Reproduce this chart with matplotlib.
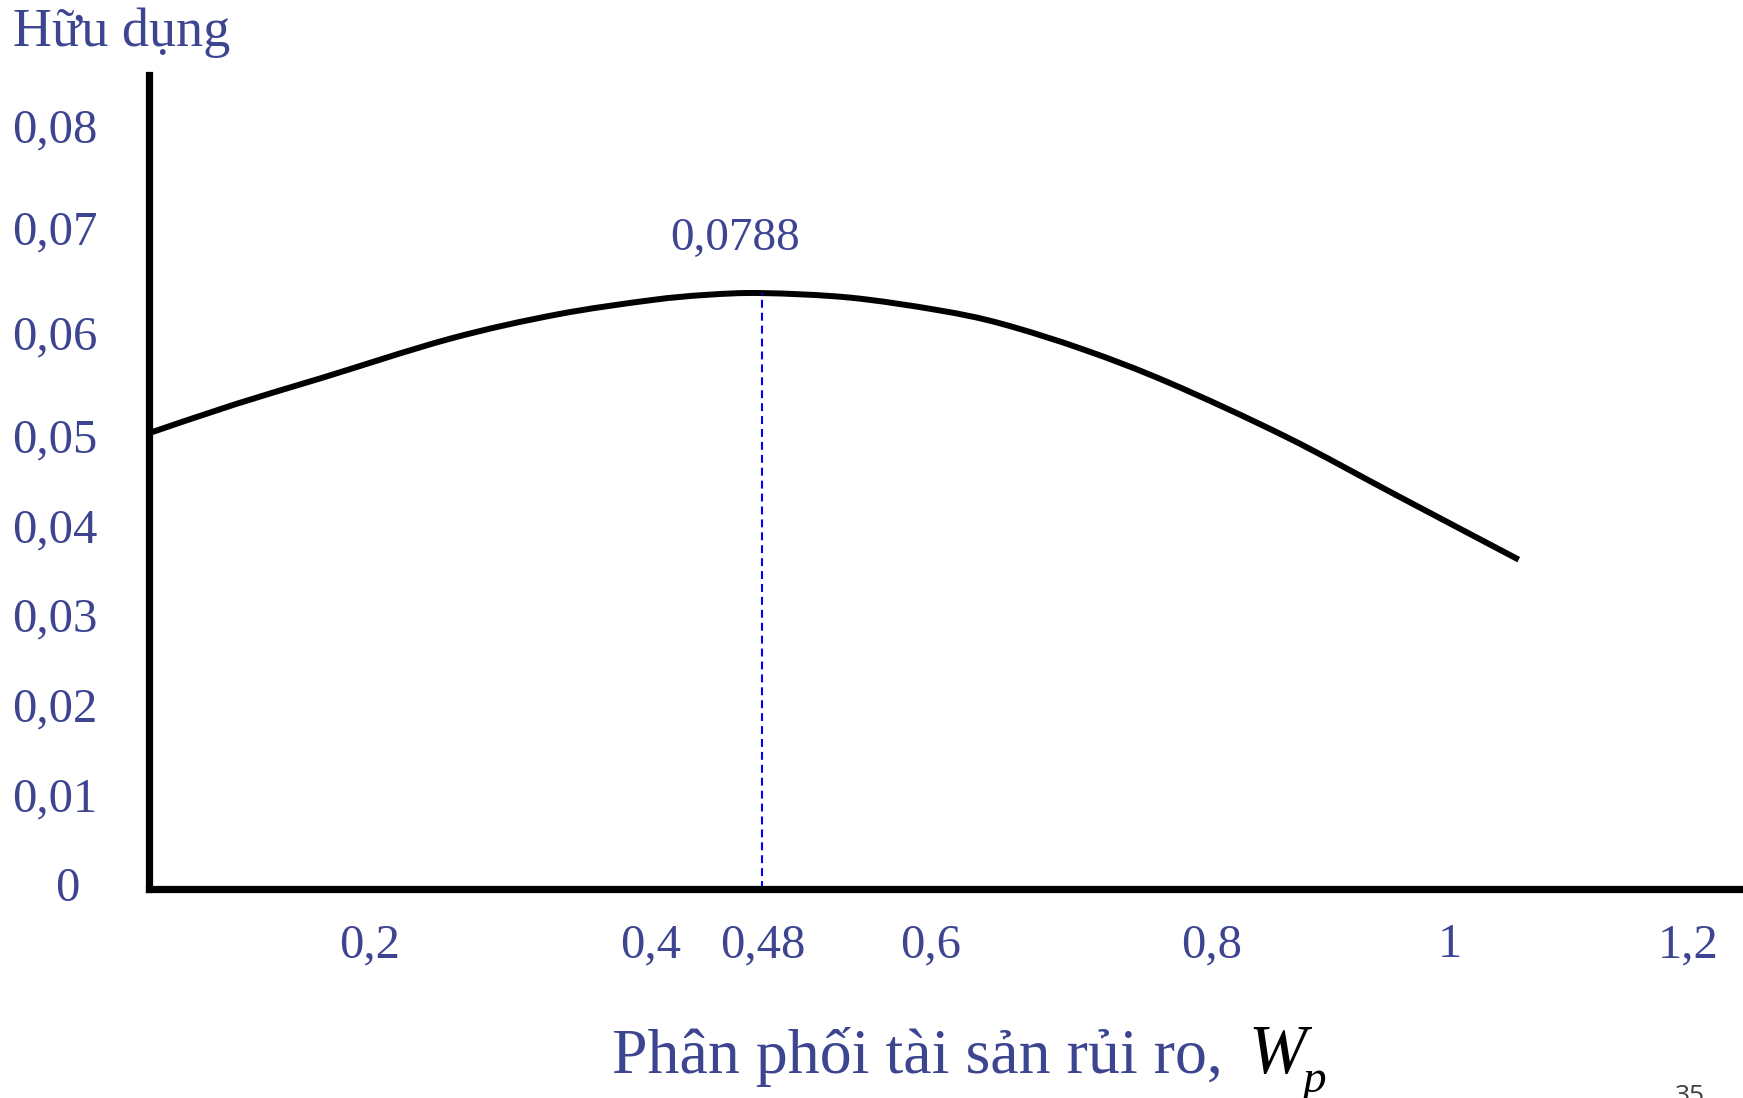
import matplotlib.pyplot as plt
import numpy as np
from matplotlib import transforms
from matplotlib.path import Path
from matplotlib.patches import PathPatch

# curve (risky-asset weight vs utility)
w_vals = [0.043, 0.104, 0.165, 0.257, 0.333, 0.400, 0.440, 0.480, 0.542,
          0.605, 0.650, 0.709, 0.770, 0.853, 0.934, 1.019]
u_vals = [0.0508, 0.0540, 0.0569, 0.0613, 0.0640, 0.0656, 0.0662, 0.0664,
          0.0659, 0.0645, 0.0630, 0.0601, 0.0564, 0.0504, 0.0437, 0.0367]

w_opt = 0.48
u_opt = 0.0664
u_opt_label = "0,0788"

# tick labels as drawn on the slide (spacing is not quite even there)
x_tick_pos = [0.2, 0.4, 0.48, 0.6, 0.8, 0.97, 1.14]
x_tick_lab = ["0,2", "0,4", "0,48", "0,6", "0,8", "1", "1,2"]
y_tick_pos = [0, 0.01, 0.02, 0.03, 0.04, 0.05, 0.0615, 0.0731, 0.0845]
y_tick_lab = ["0", "0,01", "0,02", "0,03", "0,04", "0,05", "0,06", "0,07", "0,08"]

TXT = "#3d4591"
SERIF = ["Liberation Serif", "DejaVu Serif"]


def smooth_path(xs, ys):
    # smoothed line like the office chart: bezier segments through the points
    P = np.column_stack([xs, ys])
    n = len(P)
    verts = [P[0]]
    codes = [Path.MOVETO]
    for i in range(n - 1):
        p0 = P[i - 1] if i > 0 else P[i]
        p1, p2 = P[i], P[i + 1]
        p3 = P[i + 2] if i + 2 < n else P[i + 1]
        verts += [p1 + (p2 - p0) / 6, p2 - (p3 - p1) / 6, p2]
        codes += [Path.CURVE4] * 3
    return Path(verts, codes)


W, H = 1743, 1098
fig = plt.figure(figsize=(W / 100, H / 100), dpi=100)
ax = fig.add_axes([149 / W, (H - 889) / H, (1739 - 149) / W, (889 - 75) / H])

ax.add_patch(PathPatch(smooth_path(w_vals, u_vals), fill=False, ec="black",
                       lw=4.3, capstyle="butt", joinstyle="round"))
ax.plot([w_opt, w_opt], [0, u_opt], c="#0000ff", lw=1.5,
        ls=(0, (3.8, 2.4)))

ax.set_xlim(0.0428, 1.176)
ax.set_ylim(0, 0.0907)
ax.set_xticks([])
ax.set_yticks([])
for s in ["top", "right"]:
    ax.spines[s].set_visible(False)
for s in ["left", "bottom"]:
    ax.spines[s].set_linewidth(5.2)
    ax.spines[s].set_color("black")

# tick labels
ytr = transforms.blended_transform_factory(fig.transFigure, ax.transData)
for p, lab in zip(y_tick_pos, y_tick_lab):
    xc = 67 if lab == "0" else 55
    ax.text(xc / W, p, lab, transform=ytr, ha="center", va="center",
            fontsize=35, color=TXT, family=SERIF)

xtr = transforms.blended_transform_factory(ax.transData, fig.transFigure)
for p, lab in zip(x_tick_pos, x_tick_lab):
    ax.text(p, 1 - 945 / H, lab, transform=xtr, ha="center", va="center",
            fontsize=35, color=TXT, family=SERIF)

ax.annotate(u_opt_label, (w_opt, u_opt), xytext=(-20, 31),
            textcoords="offset points", ha="center", va="baseline",
            fontsize=34, color=TXT, family=SERIF)

fig.text(13 / W, 1 - 46 / H, "Hữu dụng", ha="left", va="baseline",
         fontsize=39, color=TXT, family=SERIF)
fig.text(1223 / W, 1 - 1073 / H, "Phân phối tài sản rủi ro,", ha="right",
         va="baseline", fontsize=46, color=TXT, family=SERIF)
fig.text(1248 / W, 1 - 1073 / H, "W", ha="left", va="baseline",
         fontsize=50, style="italic", color="black", family=SERIF)
fig.text(1303 / W, 1 - 1092 / H, "p", ha="left", va="baseline",
         fontsize=34, style="italic", color="black", family=SERIF)
fig.text(1690 / W, 1 - 1084 / H, "35", ha="center", va="top",
         fontsize=19, color="#404040", family=["Open Sans", "DejaVu Sans"])

plt.savefig("out.png", dpi=100)
